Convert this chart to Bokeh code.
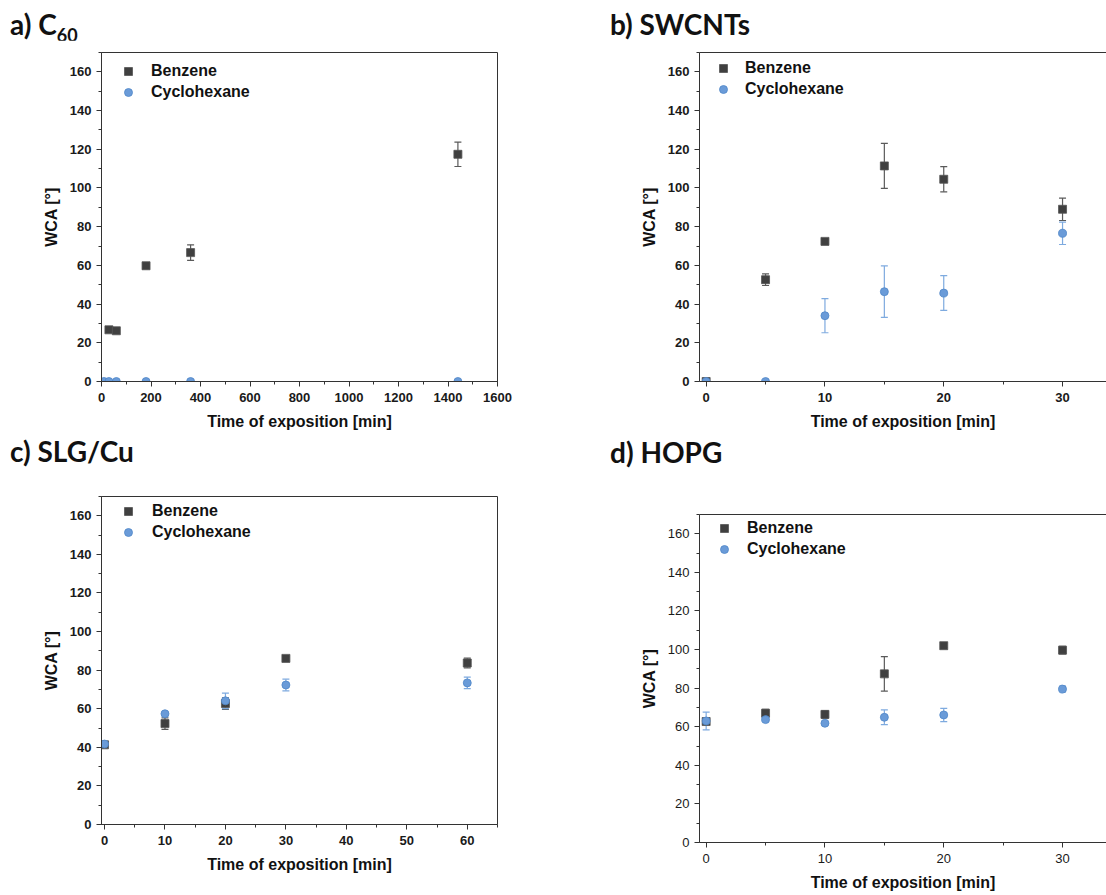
from bokeh.plotting import figure
from bokeh.models import (ColumnDataSource, Whisker, TeeHead, Legend, LegendItem,
                          SingleIntervalTicker, FixedTicker, Range1d, LinearAxis, Div, Spacer)
from bokeh.layouts import column, row
from bokeh.embed import file_html
from bokeh.resources import INLINE

# ---------------- data ----------------
# a) C60
a_t_benz = [30, 60, 180, 360, 1440]
a_benz = [26.7, 26.2, 59.8, 66.6, 117.4]
a_benz_err = [1.0, 1.0, 1.5, 4.0, 6.3]
a_t_cyc = [10, 30, 60, 180, 360, 1440]
a_cyc = [0, 0, 0, 0, 0, 0]
a_cyc_err = [0, 0, 0, 0, 0, 0]

# b) SWCNTs
b_t = [0, 5, 10, 15, 20, 30]
b_benz = [0, 52.6, 72.4, 111.4, 104.5, 89.0]
b_benz_err = [0, 3.0, 1.0, 11.6, 6.5, 5.8]
b_cyc = [0, 0, 34.0, 46.4, 45.7, 76.6]
b_cyc_err = [0, 0, 8.8, 13.3, 9.0, 5.8]

# c) SLG/Cu
c_t = [0, 10, 20, 30, 60]
c_benz = [41.3, 52.3, 62.7, 86.1, 83.7]
c_benz_err = [1.0, 3.0, 3.0, 1.0, 2.5]
c_cyc = [41.7, 57.4, 64.1, 72.3, 73.4]
c_cyc_err = [1.0, 1.0, 4.0, 3.0, 3.0]

# d) HOPG
d_t = [0, 5, 10, 15, 20, 30]
d_benz = [62.7, 67.0, 66.4, 87.4, 102.0, 99.7]
d_benz_err = [1.0, 2.0, 2.0, 8.9, 1.0, 2.0]
d_cyc = [63.0, 63.7, 61.8, 64.9, 66.1, 79.5]
d_cyc_err = [4.6, 1.0, 1.0, 3.8, 3.4, 1.5]

series_names = ["Benzene", "Cyclohexane"]
x_label = "Time of exposition [min]"
y_label = "WCA [°]"

BENZ_COLOR = "#404040"
BENZ_ERR = "#5a5a5a"
CYC_COLOR = "#6a9bd8"
CYC_LINE = "#4f86c8"
CYC_ERR = "#7eaadf"
FONT = "Liberation Sans"
TITLE_FONT = "Lato"


def make_panel(spec):
    p = figure(width=spec["w"], height=spec["h"],
               x_range=Range1d(*spec["xr"]), y_range=Range1d(0, 170),
               output_backend="svg", toolbar_location=None,
               min_border_left=spec["bl"], min_border_right=spec["br"],
               min_border_top=spec["bt"], min_border_bottom=spec["bb"])
    p.xgrid.visible = False
    p.ygrid.visible = False
    p.background_fill_color = "white"
    p.border_fill_color = "white"
    if spec["open_right"]:
        p.outline_line_color = None
        top = LinearAxis(ticker=FixedTicker(ticks=[]), axis_line_color="#333333",
                         major_tick_line_color=None, minor_tick_line_color=None,
                         major_label_text_font_size="0px")
        p.add_layout(top, "above")
    else:
        p.outline_line_color = "#333333"

    xax = p.below[0]
    yax = p.left[0]
    xax.ticker = SingleIntervalTicker(interval=spec["xint"], num_minor_ticks=2)
    yax.ticker = SingleIntervalTicker(interval=20, num_minor_ticks=2)
    for ax in (xax, yax):
        ax.axis_line_color = "#333333"
        ax.major_tick_line_color = "#333333"
        ax.minor_tick_line_color = "#333333"
        ax.major_tick_out = 5
        ax.major_tick_in = 0
        ax.minor_tick_out = 3
        ax.minor_tick_in = 0
        ax.major_label_text_font = FONT
        ax.major_label_text_font_size = "13px"
        ax.major_label_text_font_style = spec["tickstyle"]
        ax.major_label_text_color = "#1a1a1a"
        ax.axis_label_text_font = FONT
        ax.axis_label_text_font_size = "16px"
        ax.axis_label_text_font_style = "bold"
        ax.axis_label_text_color = "#111111"
    xax.axis_label = x_label
    yax.axis_label = y_label
    xax.major_label_standoff = 6
    xax.axis_label_standoff = 8
    yax.major_label_standoff = 5
    yax.axis_label_standoff = 7

    src_b = ColumnDataSource(dict(x=spec["tb"], y=spec["yb"],
                                  lo=[v - e for v, e in zip(spec["yb"], spec["eb"])],
                                  hi=[v + e for v, e in zip(spec["yb"], spec["eb"])]))
    src_c = ColumnDataSource(dict(x=spec["tc"], y=spec["yc"],
                                  lo=[v - e for v, e in zip(spec["yc"], spec["ec"])],
                                  hi=[v + e for v, e in zip(spec["yc"], spec["ec"])]))

    for src, col in ((src_b, BENZ_ERR), (src_c, CYC_ERR)):
        w = Whisker(source=src, base="x", upper="hi", lower="lo",
                    line_color=col, line_width=1.2, level="underlay",
                    upper_head=TeeHead(size=7, line_color=col, line_width=1.2),
                    lower_head=TeeHead(size=7, line_color=col, line_width=1.2))
        p.add_layout(w)

    rb = p.scatter("x", "y", source=src_b, marker="square", size=8,
                   fill_color=BENZ_COLOR, line_color="#555555", line_width=0.8)
    rc = p.scatter("x", "y", source=src_c, marker="circle", size=8,
                   fill_color=CYC_COLOR, line_color=CYC_LINE, line_width=0.8)

    legend = Legend(items=[LegendItem(label=series_names[0], renderers=[rb]),
                           LegendItem(label=series_names[1], renderers=[rc])],
                    location=spec["leg"], padding=0, margin=0,
                    border_line_color=None, background_fill_alpha=0,
                    label_text_font=FONT, label_text_font_style="bold",
                    label_text_font_size="16px", label_text_color="#111111",
                    label_standoff=spec["stand"], glyph_width=20, glyph_height=20,
                    label_height=20, spacing=1)
    p.add_layout(legend)
    return p


def title_div(html, height, left, top):
    inner = ('<div style="position:relative; left:%dpx; top:%dpx; font-family:Lato; '
             'font-weight:bold; font-size:28px; line-height:28px; color:#111111; '
             'white-space:nowrap; margin:0; padding:0;">%s</div>' % (left, top, html))
    return Div(text=inner, width=553, height=height,
               styles={"overflow": "visible", "margin": "0", "padding": "0"})


pa = make_panel(dict(w=553, h=400, xr=(0, 1600), bl=101, br=56, bt=12, bb=59,
                     xint=200, tickstyle="bold", open_right=False,
                     tb=a_t_benz, yb=a_benz, eb=a_benz_err,
                     tc=a_t_cyc, yc=a_cyc, ec=a_cyc_err,
                     leg=(17, 279), stand=13))
pb = make_panel(dict(w=553, h=400, xr=(-0.56, 33.7), bl=146, br=0, bt=12, bb=59,
                     xint=10, tickstyle="bold", open_right=True,
                     tb=b_t, yb=b_benz, eb=b_benz_err,
                     tc=b_t, yc=b_cyc, ec=b_cyc_err,
                     leg=(14, 282), stand=12))
pc = make_panel(dict(w=553, h=391, xr=(-0.5, 65), bl=101, br=56, bt=10, bb=53,
                     xint=10, tickstyle="bold", open_right=False,
                     tb=c_t, yb=c_benz, eb=c_benz_err,
                     tc=c_t, yc=c_cyc, ec=c_cyc_err,
                     leg=(17, 282), stand=14))
pd_ = make_panel(dict(w=553, h=391, xr=(-0.56, 33.7), bl=146, br=0, bt=10, bb=53,
                      xint=10, tickstyle="normal", open_right=True,
                      tb=d_t, yb=d_benz, eb=d_benz_err,
                      tc=d_t, yc=d_cyc, ec=d_cyc_err,
                      leg=(15, 283), stand=13))

ta = title_div('a) C<span style="font-size:18px; position:relative; top:7px;">60</span>', 40, 10, 10)
tb = title_div('b) SWCNTs', 40, 57, 10)
tc = title_div('c) SLG/Cu', 46, 10, -3)
td = title_div('d) HOPG', 64, 57, -2)

layout = column(
    row(column(ta, pa), column(tb, pb)),
    row(column(tc, pc, Spacer(width=553, height=18)), column(td, pd_)),
)
open("out.html", "w").write(file_html(layout, INLINE))
